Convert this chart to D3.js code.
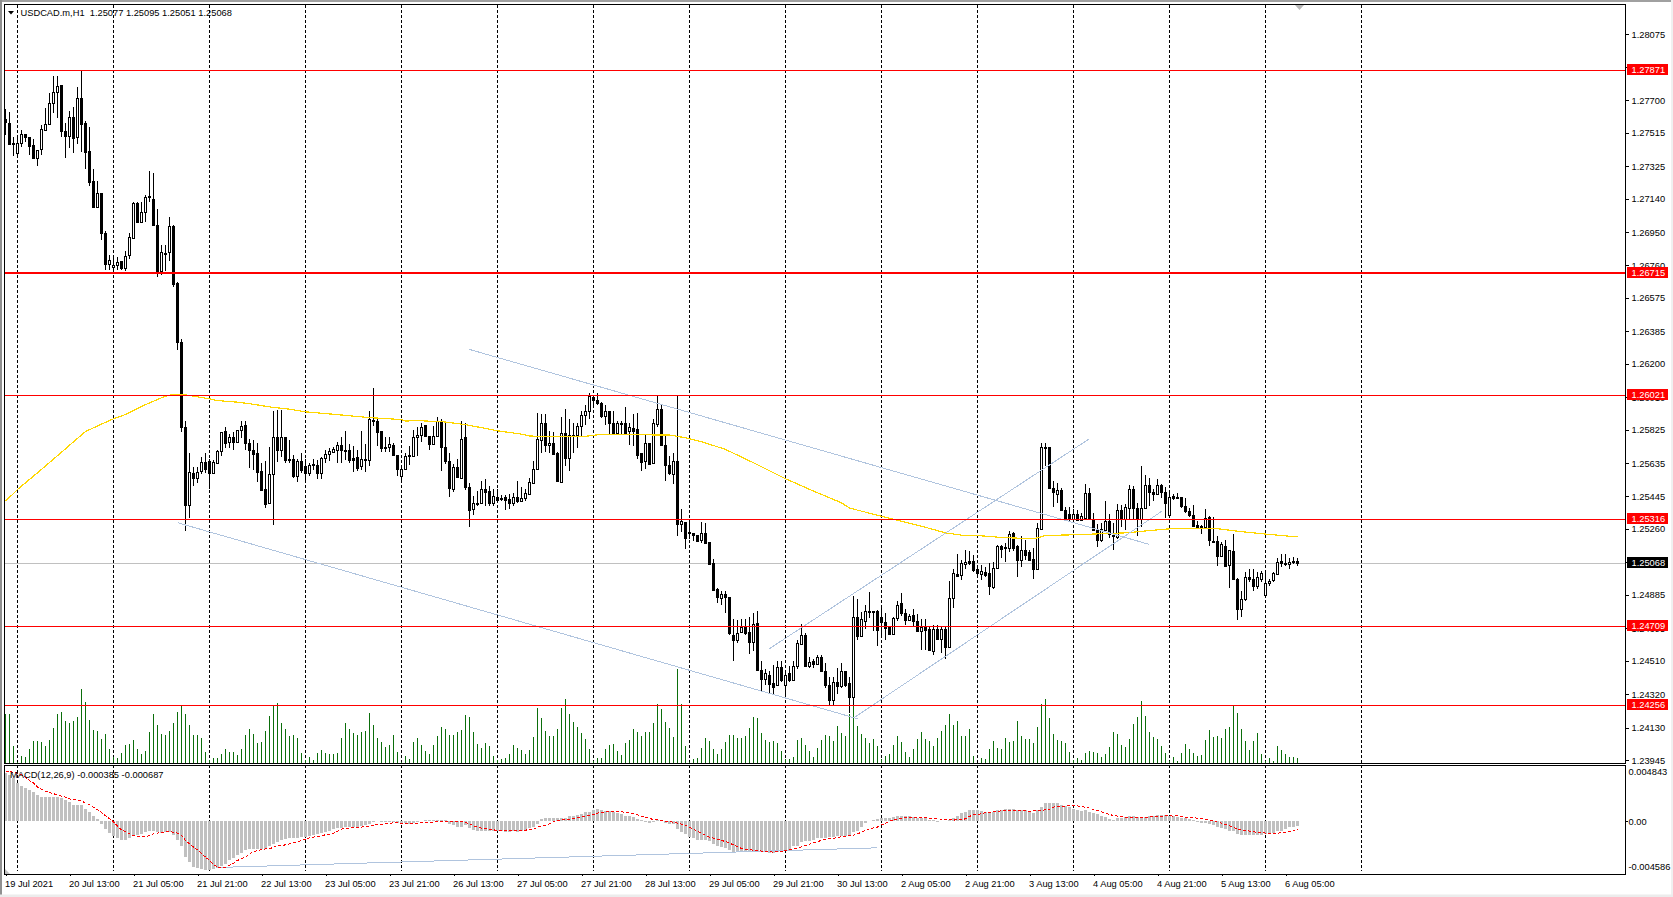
<!DOCTYPE html>
<html><head><meta charset="utf-8">
<script src="https://d3js.org/d3.v7.min.js"></script>
<style>html,body{margin:0;padding:0;background:#fff;overflow:hidden}svg{display:block}text{font-family:"Liberation Sans",Arial,sans-serif;font-size:9.3px;fill:#000}</style>
</head><body><svg id="c" width="1673" height="897"></svg>
<script>
// Prices are in points of 0.00001
const opens=[127595,127572,127458,127401,127458,127508,127492,127443,127371,127424,
127530,127565,127686,127747,127785,127527,127496,127606,127492,127714,
127572,127409,127238,127090,127170,126946,126768,126753,126764,126783,
126745,126817,126919,127117,127007,127064,127155,127140,126992,126726,
126832,126836,126984,126658,126327,125841,125397,125580,125553,125591,
125644,125648,125580,125636,125705,125815,125754,125784,125754,125822,
125853,125750,125712,125690,125591,125485,125409,125572,125784,125712,
125784,125661,125659,125564,125648,125621,125576,125630,125625,125576,
125663,125686,125697,125712,125739,125712,125712,125663,125671,125617,
125659,125652,125883,125875,125815,125728,125728,125739,125682,125561,
125602,125682,125678,125785,125793,125850,125789,125743,125789,125876,
125728,125645,125485,125611,125550,125781,125500,125372,125409,125409,
125489,125474,125409,125444,125436,125444,125432,125409,125444,125417,
125436,125459,125523,125603,125766,125865,125736,125751,125690,125527,
125808,125664,125796,125793,125846,125910,125933,126013,125994,125979,
125903,125929,125865,125804,125865,125861,125815,125834,125827,125690,
125645,125751,125633,125857,125941,125740,125626,125573,125645,125288,
125300,125242,125239,125224,125197,125239,125186,125064,124916,124867,
124890,124875,124654,124631,124673,124703,124673,124616,124726,124457,
124408,124430,124381,124373,124476,124373,124442,124400,124480,124605,
124654,124480,124506,124491,124533,124453,124373,124286,124392,124366,
124450,124382,124306,124760,124650,124738,124794,124794,124794,124760,
124730,124700,124665,124753,124836,124783,124741,124768,124737,124680,
124703,124688,124566,124692,124635,124688,124586,124866,125003,124999,
125060,125079,125079,125033,125003,125018,125007,124931,125037,125166,
125155,125151,125235,125162,125086,125143,125128,125090,125030,125261,
125728,125728,125496,125462,125481,125367,125344,125318,125348,125314,
125325,125466,125318,125253,125200,125257,125307,125227,125215,125367,
125318,125382,125489,125379,125318,125379,125508,125473,125458,125508,
125473,125337,125447,125443,125443,125390,125363,125341,125284,125276,
125269,125326,125193,125189,125109,125166,125056,125132,124976,124806,
124859,124988,124976,124938,124976,124882,124950,124969,125004,125079,
125067,125060,125079,125077];
const highs=[127652,127633,127492,127492,127530,127508,127492,127477,127420,127557,
127659,127739,127841,127841,127785,127572,127640,127663,127777,127864,
127580,127546,127307,127238,127170,126954,126817,126813,126806,126787,
126840,126946,127124,127124,127121,127162,127295,127284,127083,126878,
126878,127037,126992,126665,126342,125872,125690,125614,125614,125671,
125690,125656,125652,125712,125811,125838,125800,125811,125826,125875,
125875,125773,125769,125747,125636,125648,125724,125929,125940,125936,
125784,125769,125682,125659,125693,125659,125636,125659,125652,125671,
125709,125720,125724,125758,125784,125815,125746,125731,125712,125819,
125743,125929,126065,125898,125819,125781,125781,125747,125682,125621,
125690,125731,125826,125841,125861,125850,125789,125846,125895,125887,
125872,125690,125630,125656,125876,125861,125523,125447,125474,125535,
125542,125504,125485,125485,125455,125455,125462,125463,125531,125497,
125485,125550,125645,125922,125914,125914,125815,125812,125698,125899,
125941,125888,125865,125865,125929,125967,126035,126017,126035,125982,
125967,125929,125929,125876,125872,125952,125865,125914,125922,125694,
125796,125751,125884,126017,125967,125789,125675,125694,126020,125375,
125300,125300,125239,125227,125300,125292,125186,125087,124924,124905,
124905,124875,124745,124741,124745,124745,124760,124783,124795,124506,
124464,124453,124487,124506,124506,124460,124483,124506,124631,124722,
124669,124533,124518,124544,124544,124499,124415,124415,124468,124499,
124450,124420,124878,124859,124790,124825,124904,124794,124798,124821,
124783,124707,124760,124851,124897,124806,124775,124806,124775,124745,
124745,124707,124715,124715,124707,124707,124965,125033,125117,125086,
125140,125132,125113,125056,125056,125041,125064,125075,125170,125170,
125181,125250,125242,125170,125219,125200,125143,125151,125295,125750,
125750,125728,125534,125519,125492,125386,125386,125375,125371,125352,
125515,125496,125352,125291,125295,125420,125344,125295,125401,125394,
125401,125511,125504,125409,125621,125568,125549,125489,125542,125515,
125500,125470,125462,125466,125443,125435,125379,125394,125307,125280,
125375,125333,125329,125223,125185,125196,125143,125231,124980,124908,
125018,125030,125030,125018,125022,125022,124976,125014,125094,125117,
125117,125094,125098,125095];
const lows=[127500,127451,127382,127382,127432,127462,127386,127371,127325,127390,
127530,127557,127629,127599,127492,127371,127428,127398,127454,127405,
127307,127212,127094,127086,126904,126737,126737,126734,126737,126734,
126726,126794,126916,126999,126999,127007,127121,126988,126692,126707,
126726,126783,126639,126281,125811,125246,125325,125504,125523,125572,
125580,125488,125580,125633,125678,125720,125720,125709,125750,125777,
125712,125610,125595,125530,125477,125378,125405,125280,125644,125671,
125637,125637,125549,125526,125576,125530,125564,125595,125542,125545,
125636,125648,125690,125633,125633,125655,125637,125587,125591,125595,
125587,125617,125845,125735,125697,125697,125697,125674,125564,125538,
125599,125625,125674,125674,125755,125785,125709,125740,125785,125588,
125629,125440,125470,125554,125546,125481,125269,125337,125390,125406,
125390,125390,125390,125406,125421,125368,125375,125390,125409,125413,
125421,125455,125520,125599,125690,125698,125690,125679,125531,125527,
125618,125592,125694,125721,125785,125853,125884,125948,125963,125891,
125850,125800,125800,125800,125800,125800,125740,125732,125660,125592,
125599,125626,125630,125842,125740,125535,125565,125516,125220,125242,
125148,125205,125189,125186,125178,125174,125060,124909,124840,124825,
124783,124658,124508,124612,124669,124654,124548,124563,124453,124332,
124373,124320,124313,124370,124389,124316,124392,124396,124464,124601,
124472,124468,124468,124487,124445,124354,124260,124260,124320,124355,
124359,124211,124253,124627,124646,124688,124756,124680,124593,124643,
124631,124658,124662,124734,124764,124715,124737,124703,124673,124574,
124574,124563,124544,124627,124552,124521,124582,124810,124984,124969,
125030,125056,125018,124992,124969,124988,124882,124920,125033,125094,
125075,125128,125132,124984,125045,125086,125079,124973,125026,125257,
125618,125485,125386,125409,125363,125314,125299,125306,125303,125303,
125318,125322,125246,125155,125185,125253,125208,125143,125204,125269,
125257,125318,125318,125219,125269,125375,125390,125420,125454,125435,
125322,125333,125424,125435,125382,125352,125329,125269,125265,125234,
125261,125162,125181,125052,125105,125048,124923,124973,124741,124760,
124851,124957,124908,124916,124957,124882,124938,124961,125000,125041,
125052,125033,125060,125051];
const closes=[127576,127451,127451,127458,127508,127492,127439,127371,127417,127534,
127565,127686,127747,127781,127523,127496,127606,127485,127714,127565,
127405,127234,127094,127174,126946,126768,126791,126764,126779,126745,
126813,126923,127117,127007,127064,127151,127147,126988,126722,126836,
126828,126984,126654,126323,125838,125394,125583,125553,125587,125640,
125602,125580,125640,125705,125811,125750,125784,125754,125822,125845,
125747,125709,125686,125583,125481,125401,125572,125784,125712,125784,
125652,125657,125561,125648,125595,125576,125625,125627,125576,125663,
125686,125705,125716,125739,125709,125709,125652,125655,125610,125659,
125652,125887,125875,125811,125720,125720,125743,125682,125599,125602,
125674,125674,125781,125796,125842,125789,125743,125789,125876,125728,
125645,125493,125611,125554,125774,125500,125368,125409,125405,125489,
125470,125406,125447,125425,125432,125425,125406,125444,125417,125436,
125463,125527,125603,125774,125865,125736,125751,125686,125531,125808,
125664,125796,125789,125846,125910,125933,126017,125994,125979,125903,
125933,125865,125804,125865,125861,125808,125838,125815,125683,125641,
125751,125630,125865,125941,125740,125622,125576,125645,125288,125303,
125208,125235,125227,125189,125235,125182,125060,124912,124875,124890,
124871,124666,124631,124669,124703,124669,124616,124722,124457,124404,
124438,124377,124362,124476,124400,124430,124400,124483,124609,124654,
124480,124502,124491,124533,124449,124370,124286,124392,124366,124450,
124374,124306,124760,124650,124745,124794,124790,124790,124684,124730,
124696,124665,124753,124829,124783,124741,124764,124737,124680,124700,
124684,124570,124692,124635,124692,124586,124866,125007,124992,125064,
125071,125067,125026,125007,125022,124999,124935,125037,125166,125147,
125151,125231,125151,125086,125143,125113,125086,125030,125265,125728,
125724,125493,125470,125481,125367,125318,125318,125348,125314,125333,
125466,125325,125253,125200,125261,125307,125231,125219,125367,125318,
125386,125489,125379,125318,125382,125508,125470,125458,125508,125473,
125409,125443,125435,125439,125390,125360,125337,125276,125269,125269,
125322,125197,125185,125109,125174,125052,125140,124976,124806,124863,
124984,124973,124938,124984,125007,124954,124965,125011,125071,125064,
125060,125071,125071,125068];
const volumes=[148,148,52,2,22,18,43,67,67,64,
52,70,106,148,154,127,121,127,139,223,
184,130,100,97,73,88,43,19,16,31,
55,57,70,43,28,37,94,148,115,88,
85,97,121,154,174,148,115,85,85,76,
34,10,16,16,28,43,34,34,25,43,
85,103,88,61,64,97,142,174,181,121,
103,82,85,76,31,10,19,10,31,40,
31,28,28,31,76,121,103,91,85,94,
97,151,115,76,64,49,55,85,34,2,
22,13,64,76,55,37,28,55,82,109,
103,85,85,94,100,145,139,94,58,46,
61,52,22,10,13,16,28,55,46,40,
28,40,79,166,136,97,82,82,103,166,
193,148,124,109,91,73,43,7,16,16,
43,55,58,37,25,61,70,103,94,82,
94,94,121,178,163,124,106,79,283,178,
52,2,13,16,46,76,67,43,28,43,
64,85,85,76,76,82,106,139,136,91,
70,64,67,61,37,13,13,19,70,76,
55,37,19,46,70,85,82,67,112,91,
82,148,170,112,88,76,61,73,52,13,
22,28,55,82,64,34,19,43,73,94,
73,67,52,76,97,115,148,115,127,82,
82,103,22,1,16,13,43,67,46,43,
76,64,67,127,82,73,73,61,109,178,
193,136,88,70,67,61,34,10,16,10,
31,37,34,31,19,28,49,94,88,55,
49,73,118,139,187,142,94,79,73,52,
31,6,19,7,31,58,43,31,22,25,
70,100,79,82,76,103,109,175,151,103,
67,40,67,91,28,7,16,7,52,40,
28,19,19,16];
// MACD values in millionths
const macdHist=[4220,4100,3780,3350,3140,2940,2710,2530,2300,2180,
2100,2100,2150,2180,2010,1860,1660,1480,1480,1400,
1130,870,440,230,-260,-700,-1050,-1310,-1480,-1600,
-1600,-1400,-1280,-1220,-1110,-960,-810,-810,-960,-1050,
-960,-900,-1220,-1600,-2180,-3060,-3520,-3960,-4100,-4190,
-4280,-4280,-4130,-4020,-3870,-3700,-3400,-3170,-2970,-2710,
-2530,-2390,-2390,-2390,-2390,-2360,-2180,-2010,-1830,-1660,
-1570,-1480,-1480,-1430,-1370,-1340,-1310,-1190,-1130,-1050,
-960,-790,-700,-610,-550,-490,-490,-440,-440,-410,
-350,-260,-30,0,-30,-30,-60,-60,-90,-200,
-150,-200,-150,-60,60,90,120,90,150,170,
90,-200,-350,-440,-440,-350,-580,-730,-840,-840,
-790,-840,-840,-790,-840,-900,-900,-840,-900,-790,
-730,-610,-490,-260,200,260,320,320,260,260,
320,440,490,580,670,810,870,1020,1050,960,
930,900,810,730,670,520,440,410,230,90,
-60,-150,-30,90,150,-150,-200,-260,-670,-930,
-1130,-1370,-1480,-1600,-1660,-1660,-1720,-1950,-2120,-2240,
-2300,-2470,-2650,-2680,-2650,-2620,-2620,-2620,-2620,-2620,
-2650,-2710,-2710,-2680,-2590,-2530,-2470,-2180,-2100,-1780,
-1690,-1690,-1600,-1480,-1430,-1400,-1370,-1370,-1310,-1250,
-1250,-1190,-960,-790,-440,-120,60,150,230,260,
260,260,380,440,470,470,440,380,320,290,
260,170,90,-60,0,30,120,290,490,730,
840,960,960,960,930,870,840,870,960,1020,
1080,1110,1050,1020,960,960,900,760,960,1250,
1570,1570,1570,1570,1480,1340,1250,1110,960,900,
960,870,730,610,470,380,230,150,260,320,
350,440,440,410,380,380,470,520,550,550,
550,490,440,380,320,260,200,90,-30,-120,
-170,-260,-350,-440,-610,-700,-790,-840,-1130,-1190,
-1220,-1220,-1220,-1220,-1160,-1130,-1080,-990,-870,-790,
-640,-520,-470,-385];
const macdSignal=[4370,4370,4280,4220,4100,3870,3580,3350,3000,2820,
2650,2530,2420,2330,2210,2120,1980,1890,1890,1800,
1600,1460,1250,1020,790,490,230,-30,-380,-730,
-900,-1080,-1220,-1280,-1340,-1340,-1220,-1080,-1020,-960,
-900,-900,-930,-1020,-1220,-1660,-1950,-2240,-2470,-2820,
-3110,-3400,-3750,-3990,-4020,-3990,-3840,-3640,-3400,-3260,
-3110,-2820,-2680,-2530,-2470,-2390,-2390,-2240,-2150,-2100,
-2040,-1950,-1860,-1780,-1660,-1540,-1430,-1370,-1310,-1250,
-1160,-1110,-1020,-840,-670,-610,-580,-550,-550,-490,
-440,-410,-320,-260,-230,-200,-150,-120,-120,-150,
-150,-150,-150,-150,-120,-120,-90,-60,-30,30,
30,0,-30,-30,-30,-90,-200,-380,-490,-580,
-610,-670,-730,-790,-790,-810,-810,-810,-810,-810,
-760,-700,-670,-490,-410,-350,-200,-30,90,150,
170,200,260,350,410,470,520,610,730,810,
840,840,840,840,840,810,760,670,580,470,
380,260,170,150,90,30,-30,-60,-150,-230,
-350,-490,-670,-840,-1020,-1190,-1370,-1460,-1540,-1660,
-1750,-1890,-2040,-2180,-2360,-2420,-2470,-2500,-2530,-2590,
-2620,-2650,-2680,-2650,-2620,-2560,-2470,-2390,-2300,-2210,
-2100,-1980,-1860,-1750,-1660,-1570,-1510,-1460,-1400,-1340,
-1310,-1250,-1190,-1080,-930,-790,-640,-550,-490,-290,
-150,30,150,230,290,320,320,320,320,320,
320,290,290,230,200,150,150,120,150,170,
230,440,580,610,670,790,810,840,870,930,
960,960,960,960,930,930,900,930,930,960,
1020,1050,1250,1310,1340,1340,1370,1370,1370,1280,
1250,1160,1050,960,840,730,610,520,470,410,
380,350,320,320,350,350,410,440,470,470,
490,490,470,490,440,380,350,320,290,260,
150,120,30,-60,-150,-260,-380,-490,-670,-760,
-790,-840,-900,-960,-960,-1020,-1080,-1080,-1020,-990,
-930,-870,-790,-687];
const maBars=[0,3,8,14,20,24,27,30,35,40,42,44,46,51,53,58,62,66,71,75,82,91,99,100,104,110,114,116,123,129,131,137,144,148,154,158,166,170,174,180,187,195,202,209,211,219,229,235,239,243,249,257,260,267,274,280,287,293,302,307,315,323];
const maPrices=[125418,125485,125580,125697,125815,125857,125887,125912,125968,126016,126027,126027,126020,126001,125991,125982,125970,125955,125942,125927,125913,125894,125883,125875,125876,125869,125857,125850,125819,125800,125789,125787,125785,125796,125798,125796,125795,125779,125757,125713,125637,125546,125476,125409,125379,125333,125276,125238,125225,125223,125212,125204,125223,125227,125233,125238,125253,125265,125265,125250,125231,125215];
const levels=[127871,126715,126021,125316,124709,124256];
const thickLevel=126715;
const lastPrice=125068;
const priceTicks=[128075,127890,127700,127515,127325,127140,126950,126760,126575,126385,126200,126010,125825,125635,125445,125260,125070,124885,124695,124510,124320,124130,123945];
const timeLabels=["19 Jul 2021","20 Jul 13:00","21 Jul 05:00","21 Jul 21:00","22 Jul 13:00","23 Jul 05:00","23 Jul 21:00","26 Jul 13:00","27 Jul 05:00","27 Jul 21:00","28 Jul 13:00","29 Jul 05:00","29 Jul 21:00","30 Jul 13:00","2 Aug 05:00","2 Aug 21:00","3 Aug 13:00","4 Aug 05:00","4 Aug 21:00","5 Aug 13:00","6 Aug 05:00"];
const trendBarsA=[116,286],trendPricesA=[126282,125172];
const trendBarsB=[43,213],trendPricesB=[125296,124180];
const trendBarsC=[191,271],trendPricesC=[124579,125774];
const trendBarsD=[212,289],trendPricesD=[124184,125360];
const macdTrendBars=[53,218],macdTrendValues=[-4016,-2299];
const macdTicks=[4843,0,-4586];

const svg=d3.select("#c");
const x=d3.scaleLinear().domain([0,323]).range([5.5,1297.5]);
const y=d3.scaleLinear().domain([123931,128251]).range([762.5,3.5]);
const yPx=v=>Math.round(y(v));
const yVol=d3.scaleLinear().domain([0,300]).range([763,663]);
const yM=d3.scaleLinear().domain([-4586,4843]).range([874,766]);
const bars=d3.range(opens.length);

// window edges
svg.append("rect").attr("x",0).attr("y",0).attr("width",1673).attr("height",2).attr("fill","#a0a0a0");
svg.append("rect").attr("x",0).attr("y",0).attr("width",2).attr("height",897).attr("fill","#909090");
svg.append("rect").attr("x",1671).attr("y",0).attr("width",2).attr("height",897).attr("fill","#f0f0f0");
svg.append("rect").attr("x",0).attr("y",894.5).attr("width",1673).attr("height",2.5).attr("fill","#ececec");

const crisp=svg.append("g").attr("shape-rendering","crispEdges");
// vertical grid, every 24 bars
crisp.append("g").selectAll("line").data(d3.range(3,opens.length+24,24)).join("line")
 .attr("x1",d=>x(d)).attr("x2",d=>x(d)).attr("y1",5).attr("y2",871)
 .attr("stroke","#000").attr("stroke-dasharray","3,2");

// volume
crisp.append("g").selectAll("line").data(bars).join("line")
 .attr("x1",x).attr("x2",x).attr("y1",763).attr("y2",i=>yVol(volumes[i]))
 .attr("stroke","#0b6e0b");
// MACD histogram
crisp.append("g").selectAll("rect").data(bars).join("rect")
 .attr("x",i=>x(i)-1.5).attr("width",3)
 .attr("y",i=>Math.min(yM(0),yM(macdHist[i])))
 .attr("height",i=>Math.abs(yM(0)-yM(macdHist[i])))
 .attr("fill","#c0c0c0");

// last-price line
crisp.append("line").attr("x1",5).attr("x2",1625).attr("y1",yPx(lastPrice)+.5).attr("y2",yPx(lastPrice)+.5).attr("stroke","#c0c0c0");

// candles
const cg=crisp.append("g");
cg.selectAll("line").data(bars).join("line")
 .attr("x1",x).attr("x2",x).attr("y1",i=>yPx(highs[i])).attr("y2",i=>yPx(lows[i])).attr("stroke","#000");
cg.selectAll("rect").data(bars).join("rect")
 .attr("x",i=>x(i)-1).attr("width",2)
 .attr("y",i=>yPx(Math.max(opens[i],closes[i])))
 .attr("height",i=>Math.max(1,Math.abs(yPx(opens[i])-yPx(closes[i]))))
 .attr("fill",i=>closes[i]>=opens[i]?"#fff":"#000")
 .attr("stroke","#000");

// moving average
const maLine=d3.line().x(d=>x(d[0])).y(d=>y(d[1]));
crisp.append("path").datum(d3.zip(maBars,maPrices)).attr("d",maLine).attr("fill","none").attr("stroke","#ffd700").attr("stroke-width",1.2);

// trend lines
[[trendBarsA,trendPricesA],[trendBarsB,trendPricesB],[trendBarsC,trendPricesC],[trendBarsD,trendPricesD]].forEach(([b,p])=>{
 crisp.append("path").datum(d3.zip(b,p)).attr("d",maLine).attr("fill","none").attr("stroke","#b0c4de").attr("stroke-width",1);
});
crisp.append("path").datum(d3.zip(macdTrendBars,macdTrendValues))
 .attr("d",d3.line().x(d=>x(d[0])).y(d=>yM(d[1]))).attr("fill","none").attr("stroke","#b0c4de").attr("stroke-width",1);

// MACD signal
crisp.append("path").datum(macdSignal)
 .attr("d",d3.line().x((d,i)=>x(i)).y(d=>yM(d)))
 .attr("fill","none").attr("stroke","#f00").attr("stroke-width",1).attr("stroke-dasharray","3,2");

// horizontal levels
crisp.append("g").selectAll("line").data(levels).join("line")
 .attr("x1",5).attr("x2",1625)
 .attr("y1",d=>yPx(d)+(d===thickLevel?0:.5)).attr("y2",d=>yPx(d)+(d===thickLevel?0:.5))
 .attr("stroke","#f00").attr("stroke-width",d=>d===thickLevel?2:1);

// small corner marks
svg.append("path").attr("d",d3.line()([[5,869],[5,874],[10,874]])).attr("fill","#c0c0c0");
svg.append("path").attr("d",d3.line()([[1295,5],[1304,5],[1299.5,10]])).attr("fill","#b8b8b8");

// frames
const fr=svg.append("g").attr("shape-rendering","crispEdges").attr("fill","none").attr("stroke","#000");
fr.append("rect").attr("x",4.5).attr("y",4.5).attr("width",1621).attr("height",759);
fr.append("rect").attr("x",4.5).attr("y",765.5).attr("width",1621).attr("height",108.5);

// price axis
const axY=svg.append("g").attr("transform","translate(1625.5,0)")
 .call(d3.axisRight(y).tickValues(priceTicks).tickSize(3).tickPadding(3).tickFormat(d=>(d/1e5).toFixed(5)));
axY.select(".domain").remove();
axY.selectAll("line").attr("stroke","#000").attr("shape-rendering","crispEdges");
axY.selectAll("text").attr("fill",null);
axY.attr("font-size",null).attr("font-family",null);

// MACD axis
const axM=svg.append("g").attr("transform","translate(1625.5,0)")
 .call(d3.axisRight(yM).tickValues(macdTicks).tickSize(0).tickPadding(3)
 .tickFormat(d=>d===0?"0.00":(d/1e6).toFixed(6)));
axM.select(".domain").remove();
axM.attr("font-size",null).attr("font-family",null);
axM.selectAll("text").attr("dy",(d)=>d===4843?"0.9em":d===-4586?"-0.45em":"0.32em").attr("fill",null);
svg.append("line").attr("x1",1626).attr("x2",1628).attr("y1",yM(0)).attr("y2",yM(0)).attr("stroke","#000").attr("shape-rendering","crispEdges");

// time axis
const axX=svg.append("g").attr("transform","translate(0,874)")
 .call(d3.axisBottom(x).tickValues(timeLabels.map((_,i)=>i*16)).tickSize(2).tickPadding(4).tickFormat((d,i)=>timeLabels[i]));
axX.select(".domain").remove();
axX.attr("font-size",null).attr("font-family",null);
axX.selectAll("line").attr("stroke","#000").attr("shape-rendering","crispEdges");
axX.selectAll("text").attr("text-anchor","start").attr("dx",-1).attr("fill",null);

// level tags
const tag=(v,bg)=>{const c=yPx(v);
 svg.append("rect").attr("x",1627).attr("y",c-6.5).attr("width",41).attr("height",11).attr("fill",bg).attr("shape-rendering","crispEdges");
 svg.append("text").attr("x",1631.5).attr("y",c+2.5).style("fill","#fff").text((v/1e5).toFixed(5));};
levels.forEach(v=>tag(v,"#f00"));
tag(lastPrice,"#000");

// titles
svg.append("path").attr("d",d3.line()([[8,11],[14,11],[11,14.5]])).attr("fill","#000");
svg.append("text").attr("x",20.5).attr("y",15.5).text("USDCAD.m,H1  1.25077 1.25095 1.25051 1.25068").attr("xml:space","preserve");
svg.append("text").attr("x",10).attr("y",777.5).text("MACD(12,26,9) -0.000385 -0.000687");
</script></body></html>
